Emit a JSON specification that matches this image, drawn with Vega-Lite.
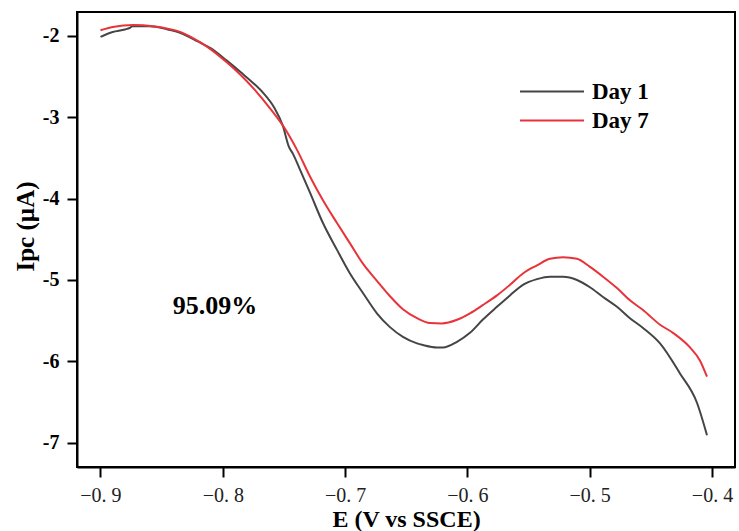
{
  "$schema": "https://vega.github.io/schema/vega-lite/v6.json",
  "width": 658,
  "height": 455,
  "autosize": {"type": "none"},
  "padding": {"left": 77, "top": 12, "right": 4, "bottom": 64},
  "background": "white",
  "config": {
    "view": {"stroke": "black", "strokeWidth": 2},
    "font": "Liberation Serif"
  },
  "datasets": {
    "curves": [
      {"E": -0.900, "I": -2.01, "s": "Day 1"},
      {"E": -0.890, "I": -1.95, "s": "Day 1"},
      {"E": -0.880, "I": -1.92, "s": "Day 1"},
      {"E": -0.876, "I": -1.90, "s": "Day 1"},
      {"E": -0.874, "I": -1.88, "s": "Day 1"},
      {"E": -0.860, "I": -1.88, "s": "Day 1"},
      {"E": -0.845, "I": -1.92, "s": "Day 1"},
      {"E": -0.835, "I": -1.96, "s": "Day 1"},
      {"E": -0.820, "I": -2.07, "s": "Day 1"},
      {"E": -0.810, "I": -2.15, "s": "Day 1"},
      {"E": -0.797, "I": -2.30, "s": "Day 1"},
      {"E": -0.785, "I": -2.45, "s": "Day 1"},
      {"E": -0.775, "I": -2.58, "s": "Day 1"},
      {"E": -0.767, "I": -2.70, "s": "Day 1"},
      {"E": -0.758, "I": -2.88, "s": "Day 1"},
      {"E": -0.751, "I": -3.10, "s": "Day 1"},
      {"E": -0.746, "I": -3.36, "s": "Day 1"},
      {"E": -0.7426, "I": -3.45, "s": "Day 1"},
      {"E": -0.7367, "I": -3.65, "s": "Day 1"},
      {"E": -0.7286, "I": -3.93, "s": "Day 1"},
      {"E": -0.7181, "I": -4.30, "s": "Day 1"},
      {"E": -0.7066, "I": -4.63, "s": "Day 1"},
      {"E": -0.6960, "I": -4.92, "s": "Day 1"},
      {"E": -0.6854, "I": -5.16, "s": "Day 1"},
      {"E": -0.6740, "I": -5.41, "s": "Day 1"},
      {"E": -0.6633, "I": -5.58, "s": "Day 1"},
      {"E": -0.6527, "I": -5.70, "s": "Day 1"},
      {"E": -0.6412, "I": -5.78, "s": "Day 1"},
      {"E": -0.6363, "I": -5.80, "s": "Day 1"},
      {"E": -0.6249, "I": -5.83, "s": "Day 1"},
      {"E": -0.6200, "I": -5.83, "s": "Day 1"},
      {"E": -0.6085, "I": -5.76, "s": "Day 1"},
      {"E": -0.5979, "I": -5.65, "s": "Day 1"},
      {"E": -0.5875, "I": -5.49, "s": "Day 1"},
      {"E": -0.5758, "I": -5.33, "s": "Day 1"},
      {"E": -0.5652, "I": -5.19, "s": "Day 1"},
      {"E": -0.5546, "I": -5.06, "s": "Day 1"},
      {"E": -0.5431, "I": -4.99, "s": "Day 1"},
      {"E": -0.5325, "I": -4.96, "s": "Day 1"},
      {"E": -0.5218, "I": -4.96, "s": "Day 1"},
      {"E": -0.5104, "I": -5.00, "s": "Day 1"},
      {"E": -0.4998, "I": -5.09, "s": "Day 1"},
      {"E": -0.4891, "I": -5.21, "s": "Day 1"},
      {"E": -0.4777, "I": -5.33, "s": "Day 1"},
      {"E": -0.4671, "I": -5.47, "s": "Day 1"},
      {"E": -0.4564, "I": -5.59, "s": "Day 1"},
      {"E": -0.4425, "I": -5.78, "s": "Day 1"},
      {"E": -0.4262, "I": -6.15, "s": "Day 1"},
      {"E": -0.4123, "I": -6.51, "s": "Day 1"},
      {"E": -0.4041, "I": -6.91, "s": "Day 1"},
      {"E": -0.900, "I": -1.93, "s": "Day 7"},
      {"E": -0.890, "I": -1.89, "s": "Day 7"},
      {"E": -0.873, "I": -1.865, "s": "Day 7"},
      {"E": -0.857, "I": -1.88, "s": "Day 7"},
      {"E": -0.845, "I": -1.91, "s": "Day 7"},
      {"E": -0.835, "I": -1.95, "s": "Day 7"},
      {"E": -0.824, "I": -2.03, "s": "Day 7"},
      {"E": -0.813, "I": -2.13, "s": "Day 7"},
      {"E": -0.797, "I": -2.32, "s": "Day 7"},
      {"E": -0.786, "I": -2.47, "s": "Day 7"},
      {"E": -0.774, "I": -2.66, "s": "Day 7"},
      {"E": -0.7614, "I": -2.89, "s": "Day 7"},
      {"E": -0.7475, "I": -3.18, "s": "Day 7"},
      {"E": -0.7393, "I": -3.40, "s": "Day 7"},
      {"E": -0.7286, "I": -3.73, "s": "Day 7"},
      {"E": -0.7181, "I": -4.02, "s": "Day 7"},
      {"E": -0.7066, "I": -4.30, "s": "Day 7"},
      {"E": -0.6960, "I": -4.55, "s": "Day 7"},
      {"E": -0.6854, "I": -4.80, "s": "Day 7"},
      {"E": -0.6740, "I": -5.01, "s": "Day 7"},
      {"E": -0.6633, "I": -5.20, "s": "Day 7"},
      {"E": -0.6527, "I": -5.36, "s": "Day 7"},
      {"E": -0.6412, "I": -5.47, "s": "Day 7"},
      {"E": -0.6306, "I": -5.53, "s": "Day 7"},
      {"E": -0.6210, "I": -5.535, "s": "Day 7"},
      {"E": -0.6085, "I": -5.49, "s": "Day 7"},
      {"E": -0.5979, "I": -5.41, "s": "Day 7"},
      {"E": -0.5875, "I": -5.31, "s": "Day 7"},
      {"E": -0.5758, "I": -5.19, "s": "Day 7"},
      {"E": -0.5652, "I": -5.06, "s": "Day 7"},
      {"E": -0.5546, "I": -4.92, "s": "Day 7"},
      {"E": -0.5431, "I": -4.82, "s": "Day 7"},
      {"E": -0.5325, "I": -4.74, "s": "Day 7"},
      {"E": -0.5218, "I": -4.72, "s": "Day 7"},
      {"E": -0.5104, "I": -4.74, "s": "Day 7"},
      {"E": -0.4998, "I": -4.84, "s": "Day 7"},
      {"E": -0.4891, "I": -4.96, "s": "Day 7"},
      {"E": -0.4777, "I": -5.10, "s": "Day 7"},
      {"E": -0.4671, "I": -5.25, "s": "Day 7"},
      {"E": -0.4564, "I": -5.37, "s": "Day 7"},
      {"E": -0.4425, "I": -5.55, "s": "Day 7"},
      {"E": -0.4319, "I": -5.65, "s": "Day 7"},
      {"E": -0.4180, "I": -5.83, "s": "Day 7"},
      {"E": -0.4099, "I": -5.99, "s": "Day 7"},
      {"E": -0.4041, "I": -6.19, "s": "Day 7"}
    ],
    "note": [{"E": -0.8064, "I": -5.32, "t": "95.09%"}]
  },
  "layer": [
    {
      "data": {"name": "curves"},
      "mark": {"type": "line", "strokeWidth": 2, "interpolate": "monotone"},
      "encoding": {
        "x": {
          "field": "E", "type": "quantitative",
          "scale": {"domain": [-0.9192, -0.3812], "nice": false, "zero": false},
          "axis": {
            "values": [-0.9, -0.8, -0.7, -0.6, -0.5, -0.4],
            "labelExpr": "'\u22120. ' + round(abs(datum.value) * 10)",
            "title": "E (V vs SSCE)",
            "titleFont": "Liberation Serif", "titleFontSize": 24, "titleFontWeight": "bold",
            "titleColor": "black", "titleBaseline": "alphabetic", "titleY": 59,
            "labelFont": "Liberation Serif", "labelFontSize": 20, "labelColor": "#222",
            "labelPadding": 8,
            "domainColor": "black", "domainWidth": 2,
            "tickColor": "black", "tickWidth": 2, "tickSize": 10,
            "grid": false
          }
        },
        "y": {
          "field": "I", "type": "quantitative",
          "scale": {"domain": [-7.30, -1.705], "nice": false, "zero": false},
          "axis": {
            "values": [-2, -3, -4, -5, -6, -7],
            "labelExpr": "'-' + abs(datum.value)",
            "title": "Ipc (\u00b5A)",
            "titleFont": "Liberation Serif", "titleFontSize": 25, "titleFontWeight": "bold",
            "titleColor": "black", "titleBaseline": "middle", "titleX": -52, "titleY": 214,
            "labelFont": "Liberation Serif", "labelFontSize": 20, "labelFontWeight": "bold",
            "labelColor": "black", "labelPadding": 8,
            "domainColor": "black", "domainWidth": 2,
            "tickColor": "black", "tickWidth": 2, "tickSize": 10,
            "grid": false
          }
        },
        "color": {
          "field": "s", "type": "nominal",
          "scale": {"domain": ["Day 1", "Day 7"], "range": ["#454545", "#e8333a"]},
          "legend": {
            "orient": "none", "legendX": 442, "legendY": 65,
            "title": null, "symbolType": "stroke", "symbolSize": 4096,
            "symbolStrokeWidth": 2, "rowPadding": 0, "clipHeight": 29,
            "labelFont": "Liberation Serif", "labelFontSize": 23, "labelFontWeight": "bold",
            "labelColor": "black", "labelOffset": 7
          }
        }
      }
    },
    {
      "data": {"name": "note"},
      "mark": {"type": "text", "font": "Liberation Serif", "fontSize": 26, "fontWeight": "bold", "color": "black", "baseline": "middle"},
      "encoding": {
        "x": {"field": "E", "type": "quantitative"},
        "y": {"field": "I", "type": "quantitative"},
        "text": {"field": "t"}
      }
    }
  ]
}
